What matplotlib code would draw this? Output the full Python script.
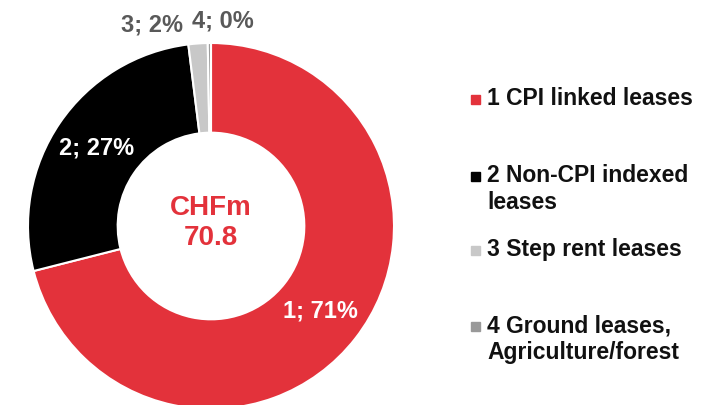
import matplotlib
matplotlib.use("Agg")
import matplotlib.pyplot as plt
import numpy as np
from matplotlib.patches import Rectangle

plt.rcParams['font.family'] = ['Liberation Sans', 'DejaVu Sans']

# ---- data ----
categories = ["1 CPI linked leases", "2 Non-CPI indexed\nleases",
              "3 Step rent leases", "4 Ground leases,\nAgriculture/forest"]
values = [50.3, 19.1, 1.2, 0.2]          # CHFm
data_labels = ["1; 71%", "2; 27%", "3; 2%", "4; 0%"]
total_label = "CHFm\n70.8"
colors = ["#E3323B", "#000000", "#C8C8C8", "#999999"]

W, H = 706, 405
fig = plt.figure(figsize=(W / 100, H / 100), dpi=100)
ax = fig.add_axes([0, 0, 1, 1])

cx, cy, R = 211, H - 226, 183
ring = 0.49 * R
wedges, _ = ax.pie(values, colors=colors, startangle=90, counterclock=False,
                   center=(cx, cy), radius=R, frame=True,
                   wedgeprops=dict(width=ring, edgecolor='white', linewidth=1.5))
ax.set_xlim(0, W)
ax.set_ylim(0, H)
ax.set_aspect('equal')
ax.axis('off')

# data labels
for i, (w, lab) in enumerate(zip(wedges, data_labels)):
    ang = np.deg2rad((w.theta1 + w.theta2) / 2)
    if i < 2:
        r = R - ring / 2
        ax.text(cx + r * np.cos(ang), cy + r * np.sin(ang), lab, color='white',
                fontsize=17, fontweight='bold', ha='center', va='center')
    elif i == 2:
        ax.text(183, H - 25, lab, color='#595959', fontsize=17,
                fontweight='bold', ha='right', va='center')
    else:
        ax.text(192, H - 21, lab, color='#595959', fontsize=17,
                fontweight='bold', ha='left', va='center')

ax.text(cx, cy + 3, total_label, color=colors[0], fontsize=20, fontweight='bold',
        ha='center', va='center', linespacing=1.2)

# legend (manual)
leg_y = [99, 176, 250, 326]
for cat, col, y in zip(categories, colors, leg_y):
    ax.add_patch(Rectangle((471, H - y - 4.5), 9, 9, color=col))
    ax.text(487, H - y + 12, cat, color='#111111', fontsize=16.5, fontweight='bold',
            ha='left', va='top', linespacing=1.2)

fig.savefig("out.png", dpi=100)
